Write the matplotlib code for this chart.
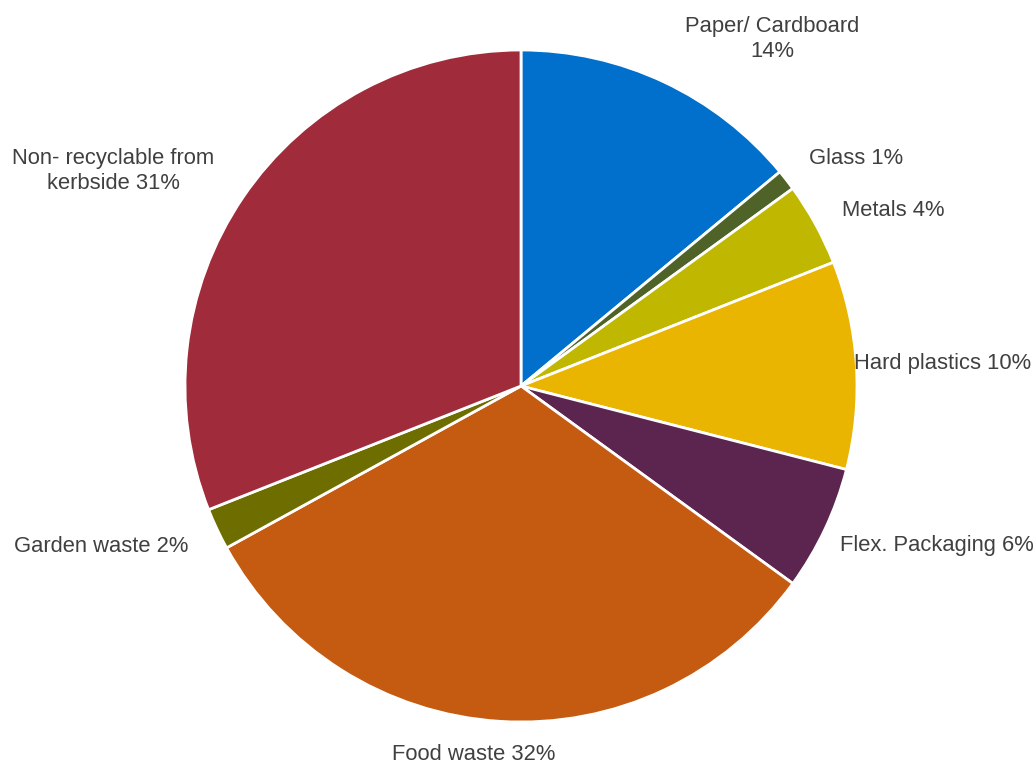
import matplotlib
matplotlib.use("Agg")
import matplotlib.pyplot as plt

categories = ["Paper/ Cardboard", "Glass", "Metals", "Hard plastics",
              "Flex. Packaging", "Food waste", "Garden waste",
              "Non- recyclable from kerbside"]
shares = [14, 1, 4, 10, 6, 32, 2, 31]
label_text = ["Paper/ Cardboard\n14%", "Glass 1%", "Metals 4%", "Hard plastics 10%",
              "Flex. Packaging 6%", "Food waste 32%", "Garden waste 2%",
              "Non- recyclable from\nkerbside 31%"]
colors = ["#0070CC", "#4F6228", "#C0B800", "#E9B500",
          "#5C2550", "#C55A11", "#6E6E00", "#A02B3A"]

# label centres in pixel space (y measured from the top)
label_pos = [(772, 39), (856, 159), (893, 210), (943, 364),
             (937, 545), (474, 754), (101, 547), (113, 171)]

plt.rcParams["font.family"] = ["Liberation Sans", "DejaVu Sans"]

W, H = 1036, 764
fig = plt.figure(figsize=(W / 100, H / 100), dpi=100)
ax = fig.add_axes([0, 0, 1, 1])

ax.pie(shares, colors=colors, startangle=90, counterclock=False,
       center=(521, H - 386), radius=336, frame=True,
       wedgeprops=dict(edgecolor="white", linewidth=2.0))
ax.set_xlim(0, W)
ax.set_ylim(0, H)
ax.axis("off")

for txt, (px, py) in zip(label_text, label_pos):
    ax.text(px, H - py, txt, ha="center", va="center", fontsize=15.8,
            color="#404040", linespacing=1.2)

fig.savefig("out.png", dpi=100)
